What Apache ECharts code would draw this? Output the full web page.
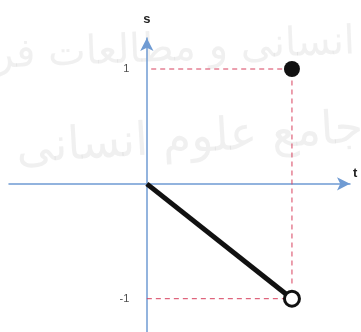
<!DOCTYPE html>
<html>
<head>
<meta charset="utf-8">
<script src="https://cdn.jsdelivr.net/npm/echarts@6/dist/echarts.min.js"></script>
<style>
  html, body { margin: 0; padding: 0; background: #fff; }
  #chart { width: 361px; height: 332px; }
</style>
</head>
<body>
<div id="chart"></div>
<script>
// s(t): segment from (0,0) to (1,-1), open end at (1,-1), isolated point at (1,1)
var segment = [[0, 0], [1, -1]];
var filledPoint = [[1, 1]];
var openPoint = [[1, -1]];
var guideTop = [[0.03, 1], [1, 1]];
var guideVert = [[1, 0.9], [1, -0.9]];
var guideBottom = [[0, -1], [1, -1]];
var yTicks = [1, -1];

var myChart = echarts.init(document.getElementById('chart'));

var axisBlue = '#6f9bd3';
var dash = { color: '#d8405e', width: 1, type: [5, 4] };

var option = {
  animation: false,
  grid: { left: 9, right: 11, top: 38, bottom: 0, containLabel: false, outerBoundsMode: 'none' },
  xAxis: {
    type: 'value', min: -0.95, max: 1.4,
    name: 't', nameLocation: 'end', nameGap: 3,
    nameTextStyle: { color: '#222', fontSize: 13, fontWeight: 'bold', verticalAlign: 'bottom', padding: [0, 0, 4, 0] },
    splitLine: { show: false },
    axisTick: { show: false },
    axisLabel: { show: false },
    axisLine: { onZero: true, lineStyle: { color: axisBlue, width: 1.5 }, symbol: ['none', 'arrow'], symbolSize: [10, 13] }
  },
  yAxis: {
    type: 'value', min: -1.29, max: 1.27,
    name: 's', nameLocation: 'end', nameGap: 12,
    nameTextStyle: { color: '#222', fontSize: 13, fontWeight: 'bold' },
    splitLine: { show: false },
    axisTick: { show: false },
    axisLabel: { show: false },
    axisLine: { onZero: true, lineStyle: { color: axisBlue, width: 1.5 }, symbol: ['none', 'arrow'], symbolSize: [10, 13] }
  },
  graphic: [
    { type: 'text', left: -95, top: 12, rotation: 0.04, z: -10, silent: true,
      style: { text: 'پژوهشگاه علوم انسانی و مطالعات فرهنگی', fontSize: 40, fill: 'rgba(170,170,170,0.18)', fontFamily: 'DejaVu Sans' } },
    { type: 'text', left: 15, top: 100, rotation: 0.06, z: -10, silent: true,
      style: { text: 'پرتال جامع علوم انسانی', fontSize: 46, fill: 'rgba(170,170,170,0.18)', fontFamily: 'DejaVu Sans' } }
  ],
  series: [
    { type: 'line', data: guideTop, symbol: 'none', lineStyle: dash, z: 1 },
    { type: 'line', data: guideVert, symbol: 'none', lineStyle: dash, z: 1 },
    { type: 'line', data: guideBottom, symbol: 'none', lineStyle: dash, z: 1 },
    { type: 'line', data: segment, symbol: 'none', lineStyle: { color: '#111', width: 5 }, z: 2 },
    { type: 'scatter', data: filledPoint, symbolSize: 16, itemStyle: { color: '#111', opacity: 1 }, z: 3 },
    { type: 'scatter', data: openPoint, symbolSize: 15, itemStyle: { color: '#fff', borderColor: '#111', borderWidth: 3, opacity: 1 }, z: 3 },
    { type: 'scatter', data: yTicks.map(function (v) { return [0, v]; }), symbolSize: 1,
      itemStyle: { color: 'rgba(0,0,0,0)' }, z: 3,
      label: { show: true, position: 'left', distance: 17, color: '#222', fontSize: 11,
        formatter: function (p) { return String(p.value[1]); } } }
  ]
};

myChart.setOption(option);
</script>
</body>
</html>
